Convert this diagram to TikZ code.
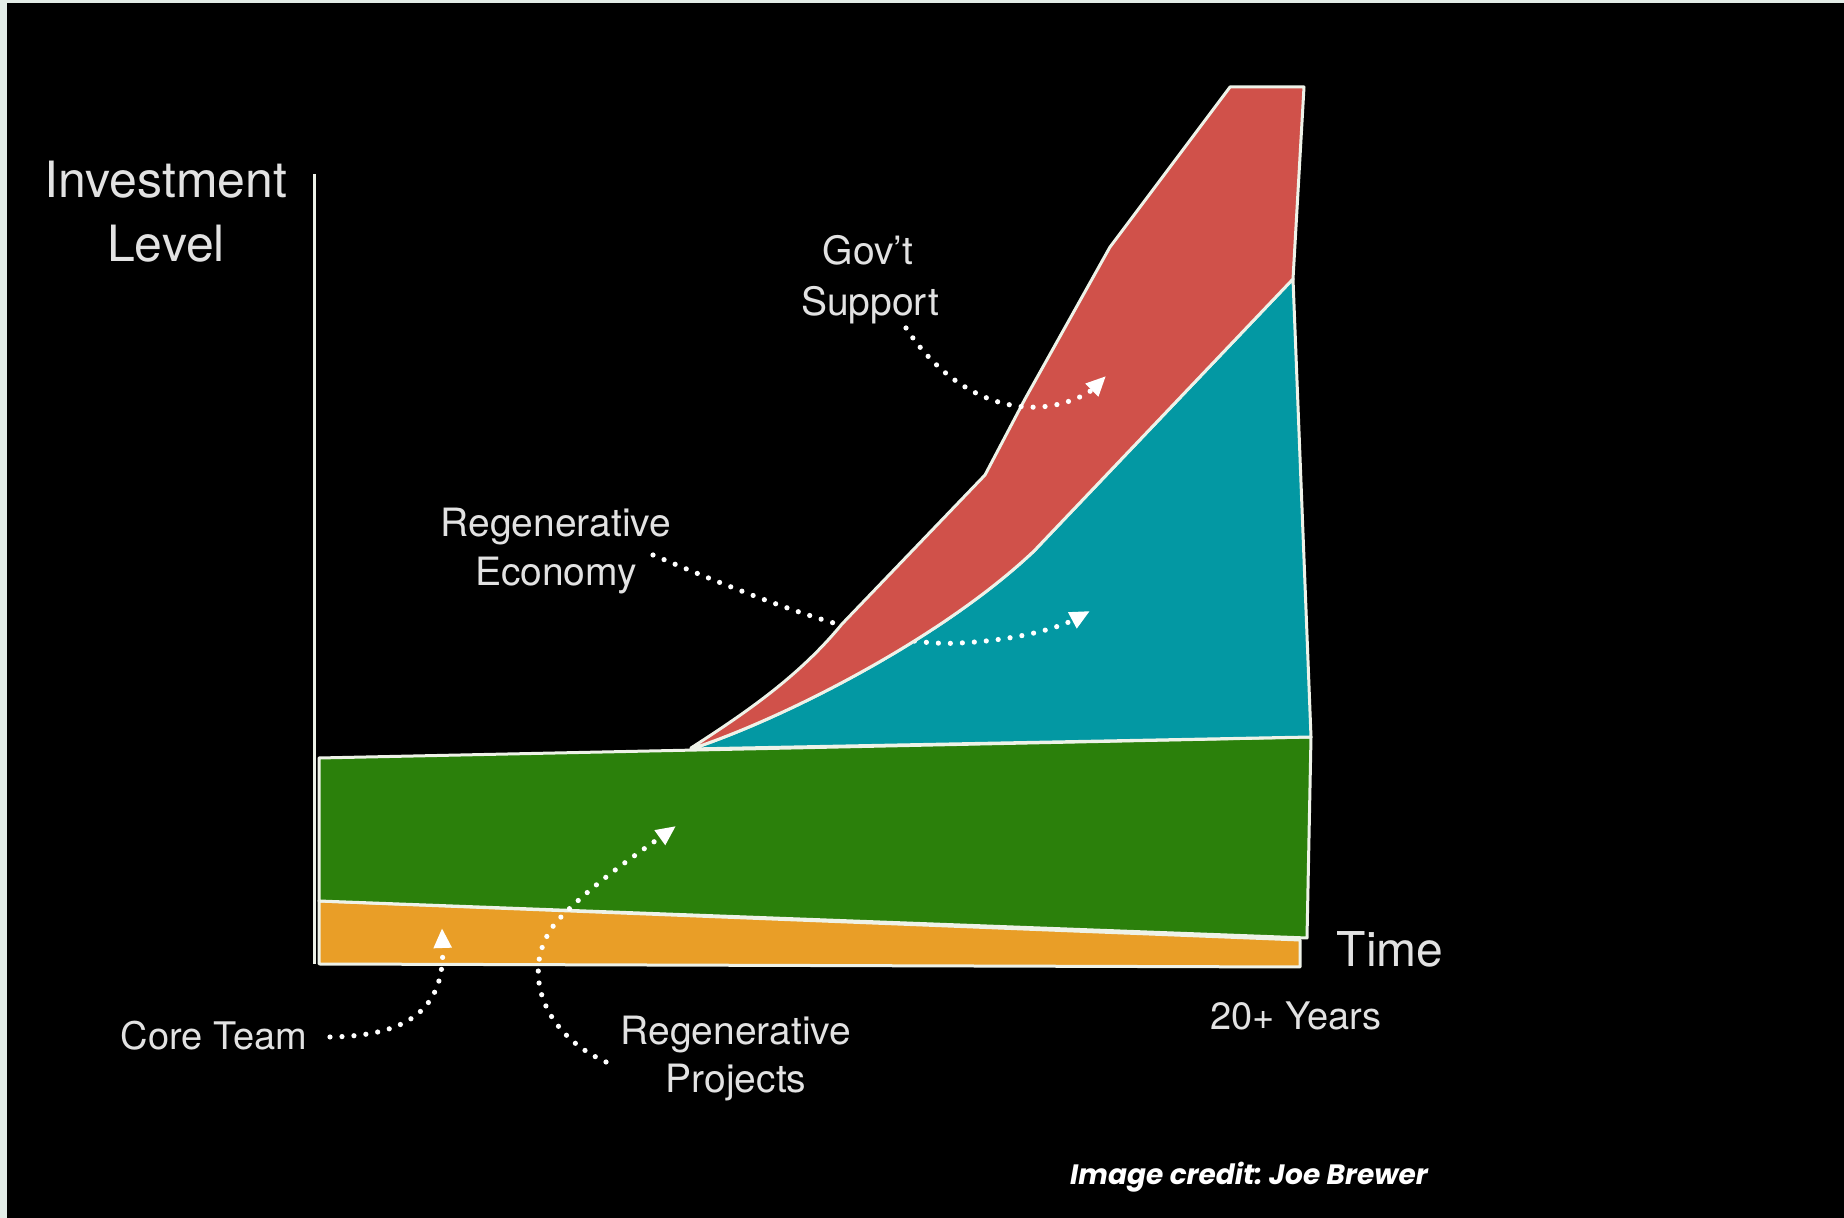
\documentclass[tikz,border=0pt]{standalone}
\usepackage{fontspec}
\setmainfont{TeX Gyre Heros}
\newfontfamily\creditfont{Poppins}
\usetikzlibrary{arrows.meta}
\definecolor{redc}{HTML}{D0514A}
\definecolor{tealc}{HTML}{0398A3}
\definecolor{greenc}{HTML}{2B800B}
\definecolor{orangec}{HTML}{E99E27}
\definecolor{outc}{HTML}{EEF2E8}
\definecolor{txtc}{HTML}{E2E2E2}
\definecolor{bordc}{HTML}{E3ECE7}
\tikzset{
  band/.style={draw=outc, line width=1.5pt, line join=round},
  dotarrow/.style={draw=white, line width=2.6pt, line cap=round, dash pattern=on 0pt off 6pt,
    -{Triangle[length=10pt,width=8.5pt]}},
  lbl/.style={text=txtc, inner sep=0pt, anchor=base, font=\fontsize{19.5pt}{23pt}\selectfont},
  biglbl/.style={lbl, font=\fontsize{25pt}{30pt}\selectfont},
}
\frenchspacing
\begin{document}
\begin{tikzpicture}[x=0.5pt,y=-0.5pt]
\useasboundingbox (0,0) rectangle (1844,1218);
\fill[black] (0,0) rectangle (1844,1218);
\fill[bordc] (0,0) rectangle (7,1218);
\fill[bordc] (0,0) rectangle (1844,3);

% bands
\filldraw[band, fill=orangec] (319,901) -- (1300,940) -- (1300,967) -- (319,964) -- cycle;
\filldraw[band, fill=greenc] (319,758) -- (1311,737) -- (1307,938) -- (319,901) -- cycle;
\filldraw[band, fill=tealc] (691,749) .. controls (780,720) and (940,640) .. (1034,551) -- (1293,279) -- (1311,737) -- cycle;

% arrow passing under the red band
\coordinate (ecoS) at (653,555);
\coordinate (ecoT) at (1090,611);
\draw[dotarrow] (ecoS) .. controls (760,600) and (880,648) .. (960,643) .. controls (1020,640) and (1060,627) .. (ecoT);

\filldraw[band, fill=redc] (691,748) .. controls (750,710) and (800,675) .. (842,624) -- (985,475) -- (1025,399) -- (1110,247) -- (1230,87) -- (1304,87) -- (1293,279)
  -- (1034,551) .. controls (940,640) and (780,720) .. (691,749) -- cycle;

% axis
\draw[outc, line width=1.5pt] (314,174) -- (314,964);

% labels
\node[biglbl] (inv) at (166,198) {Investment};
\node[biglbl] (lvl) at (166,262) {Level};
\node[lbl, font=\fontsize{24pt}{28pt}\selectfont] (time) at (1390,967) {Time};
\node[lbl, font=\fontsize{19pt}{23pt}\selectfont] (yrs) at (1296,1030) {20+ Years};
\node[lbl, font=\fontsize{19pt}{23pt}\selectfont] (core) at (214,1050) {Core Team};
\node[lbl] (proj1) at (736,1045) {Regenerative};
\node[lbl] (proj2) at (736,1093) {Projects};
\node[lbl] (eco1) at (556,537) {Regenerative};
\node[lbl] (eco2) at (556,586) {Economy};
\node[lbl] (gov1) at (868,265) {Gov’t};
\node[lbl] (gov2) at (870,316) {Support};
\node[inner sep=0pt, anchor=base, text=white, font=\creditfont\bfseries\itshape\fontsize{14pt}{17pt}\selectfont] (credit) at (1249,1185) {Image credit: Joe Brewer};

% other arrows
\coordinate (govS) at (906,328);
\coordinate (govT) at (1106,376);
\draw[dotarrow] (govS) .. controls (940,380) and (990,410) .. (1040,407) .. controls (1070,405) and (1090,392) .. (govT);
\coordinate (coreS) at (330,1037);
\coordinate (coreT) at (442,928);
\draw[dotarrow] (coreS) .. controls (400,1036) and (445,1015) .. (coreT);
\coordinate (projS) at (606,1062);
\coordinate (projT) at (676,826);
\draw[dotarrow] (projS) .. controls (535,1030) and (520,960) .. (560,918) .. controls (595,882) and (640,852) .. (projT);
\end{tikzpicture}
\end{document}
